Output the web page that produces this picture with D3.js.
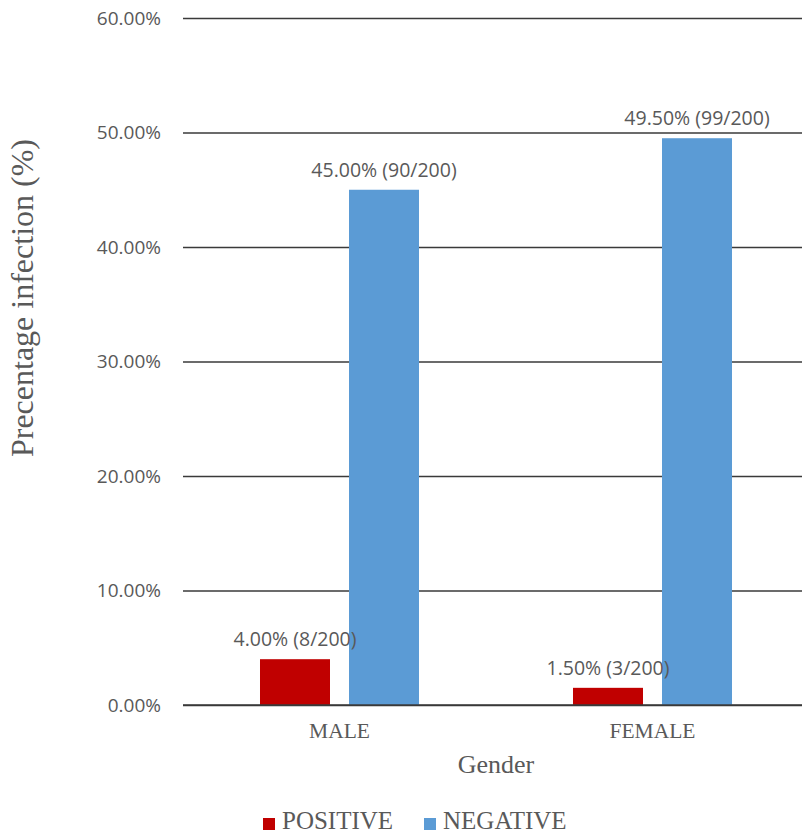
<!DOCTYPE html>
<html>
<head>
<meta charset="utf-8">
<script src="https://cdn.jsdelivr.net/npm/d3@7"></script>
<style>
  html, body { margin: 0; padding: 0; background: #fff; }
  svg { display: block; }
</style>
</head>
<body>
<svg id="chart" width="802" height="836"></svg>
<script>
// Infection results by gender (share of 200 samples)
const categories = ["MALE", "FEMALE"];
const seriesNames = ["POSITIVE", "NEGATIVE"];
const positiveValues = [0.04, 0.015];
const negativeValues = [0.45, 0.495];
const positiveCounts = ["8/200", "3/200"];
const negativeCounts = ["90/200", "99/200"];
const yTicks = [0, 0.1, 0.2, 0.3, 0.4, 0.5, 0.6];
const seriesColors = ["#C00000", "#5B9BD5"];

const svg = d3.select("#chart");
const plot = { left: 183, right: 809, top: 18, bottom: 705 };

const sansFont = "'Open Sans', 'DejaVu Sans', sans-serif";
const serifFont = "'Liberation Serif', 'Times New Roman', serif";
const textGray = "#595959";

const y = d3.scaleLinear().domain([0, 0.6]).range([plot.bottom, plot.top]);
const x0 = d3.scaleBand().domain(categories).range([plot.left, plot.right]);
const groupWidth = x0.bandwidth() * 0.508;
const x1 = d3.scaleBand()
  .domain(seriesNames)
  .range([(x0.bandwidth() - groupWidth) / 2, (x0.bandwidth() + groupWidth) / 2])
  .paddingInner(0.2135);

const fmt = d3.format(".2%");

// Gridlines with percentage labels
const yAxis = d3.axisLeft(y).tickValues(yTicks).tickFormat(fmt)
  .tickSize(-(802 - plot.left)).tickPadding(22);
const gy = svg.append("g").attr("transform", `translate(${plot.left},0)`).call(yAxis);
gy.select(".domain").remove();
gy.selectAll(".tick line").attr("stroke", "#3a3a3a").attr("stroke-width", 1.6);
gy.selectAll(".tick text")
  .attr("fill", textGray).style("font-family", sansFont).style("font-size", "19px");

// Bars
const rows = categories.map((c, i) => ({
  category: c,
  values: [
    { series: "POSITIVE", value: positiveValues[i], count: positiveCounts[i] },
    { series: "NEGATIVE", value: negativeValues[i], count: negativeCounts[i] }
  ]
}));
const color = d3.scaleOrdinal().domain(seriesNames).range(seriesColors);

const groups = svg.append("g").selectAll("g").data(rows).join("g")
  .attr("transform", d => `translate(${x0(d.category)},0)`);

groups.selectAll("rect").data(d => d.values).join("rect")
  .attr("x", d => x1(d.series))
  .attr("y", d => y(d.value))
  .attr("width", x1.bandwidth())
  .attr("height", d => y(0) - y(d.value))
  .attr("fill", d => color(d.series));

groups.selectAll("text.value").data(d => d.values).join("text")
  .attr("class", "value")
  .attr("x", d => x1(d.series) + x1.bandwidth() / 2)
  .attr("y", d => y(d.value) - 13)
  .attr("text-anchor", "middle")
  .attr("fill", textGray)
  .style("font-family", sansFont).style("font-size", "19.5px")
  .text(d => `${fmt(d.value)} (${d.count})`);

// Baseline redrawn above the bars
svg.append("line")
  .attr("x1", plot.left).attr("x2", 802)
  .attr("y1", y(0)).attr("y2", y(0))
  .attr("stroke", "#3a3a3a").attr("stroke-width", 1.6);

// Category labels
svg.append("g").selectAll("text").data(categories).join("text")
  .attr("x", d => x0(d) + x0.bandwidth() / 2)
  .attr("y", 738)
  .attr("text-anchor", "middle")
  .attr("fill", textGray)
  .style("font-family", serifFont).style("font-size", "21.5px")
  .text(d => d);

// Axis titles
svg.append("text")
  .attr("x", 496).attr("y", 773)
  .attr("text-anchor", "middle")
  .attr("fill", textGray)
  .style("font-family", serifFont).style("font-size", "26px")
  .text("Gender");

svg.append("text")
  .attr("transform", "translate(33,298) rotate(-90)")
  .attr("text-anchor", "middle")
  .attr("fill", textGray)
  .style("font-family", serifFont).style("font-size", "32px")
  .text("Precentage infection (%)");

// Legend
const legendX = [263, 424];
const legend = svg.append("g").selectAll("g").data(seriesNames).join("g")
  .attr("transform", (d, i) => `translate(${legendX[i]},0)`);
legend.append("rect")
  .attr("x", 0).attr("y", 818).attr("width", 12).attr("height", 12)
  .attr("fill", d => color(d));
legend.append("text")
  .attr("x", 19).attr("y", 829)
  .attr("fill", textGray)
  .style("font-family", serifFont).style("font-size", "25px")
  .text(d => d);
</script>
</body>
</html>
